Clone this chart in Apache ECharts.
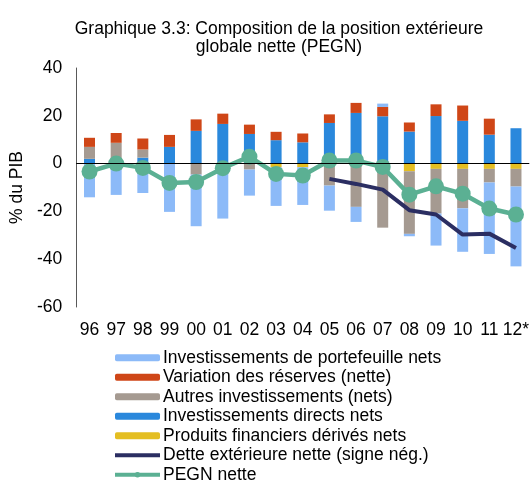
<!DOCTYPE html>
<html>
<head>
<meta charset="utf-8">
<script src="https://cdn.jsdelivr.net/npm/echarts@6/dist/echarts.min.js"></script>
<style>
  html, body { margin: 0; padding: 0; background: #fff; }
  #chart { width: 532px; height: 484px; }
</style>
</head>
<body>
<div id="chart"></div>
<script>
// years (2012 = estimate)
const years = ["96", "97", "98", "99", "00", "01", "02", "03", "04", "05", "06", "07", "08", "09", "10", "11", "12*"];

// % du PIB
const portefeuille = [-14.1, -13.1, -12.3, -20.2, -21.6, -23.0, -10.9, -16.2, -15.8, -10.5, -6.3, 1.4, -1.0, -13.4, -18.2, -29.9, -33.4];
const reserves = [3.8, 4.1, 4.6, 5.0, 4.8, 4.3, 3.9, 3.5, 3.7, 3.6, 4.2, 3.9, 3.8, 4.9, 6.4, 6.7, 0];
const autres = [5.0, 8.7, 3.4, 0, -4.6, 0, -2.5, 0, 0, -9.2, -18.1, -26.8, -26.2, -18.7, -16.5, -5.7, -7.4];
const directs = [2.0, 0, 2.5, 7.0, 13.7, 16.6, 12.4, 9.8, 8.9, 17.0, 21.2, 19.8, 13.4, 19.9, 17.9, 12.1, 14.8];
const derives = [0, 0, 0, 0, 0, 0, 0, -1.5, -1.5, 0, 0, 0, -3.2, -2.2, -2.2, -2.2, -2.2];
const dette = [null, null, null, null, null, null, null, null, null, -6.4, -8.5, -10.9, -19.5, -21.3, -29.7, -29.3, -35.3];
const pegn = [-3.3, 0, -1.8, -8.1, -7.7, -1.9, 2.9, -4.3, -5.0, 1.3, 1.3, -1.4, -13.0, -9.5, -12.6, -18.8, -21.3];

const yTicks = { min: -60, max: 40, step: 20 };

const names = {
  portefeuille: "Investissements de portefeuille nets",
  reserves: "Variation des réserves (nette)",
  autres: "Autres investissements (nets)",
  directs: "Investissements directs nets",
  derives: "Produits financiers dérivés nets",
  dette: "Dette extérieure nette (signe nég.)",
  pegn: "PEGN nette",
};

const font = "'Liberation Sans', Arial, sans-serif";

function bar(name, data, color) {
  return {
    name,
    type: "bar",
    stack: "total",
    data,
    barWidth: 11,
    itemStyle: { color },
  };
}

const chart = echarts.init(document.getElementById("chart"), null, { renderer: "canvas" });

chart.setOption({
  animation: false,
  textStyle: { fontFamily: font, color: "#000" },
  title: {
    text: "Graphique 3.3: Composition de la position extérieure\nglobale nette (PEGN)",
    left: 274,
    top: 15,
    textAlign: "center",
    textStyle: { fontFamily: font, fontSize: 17.5, fontWeight: "normal", color: "#000", lineHeight: 18 },
  },
  legend: {
    orient: "vertical",
    left: 113,
    top: 348,
    height: 140,
    padding: 0,
    itemWidth: 45,
    itemHeight: 7,
    itemGap: 0,
    lineStyle: { width: 4 },
    textStyle: { fontFamily: font, fontSize: 17.5, color: "#000", lineHeight: 19.5, padding: [0, 0, 0, -2] },
    data: [
      names.portefeuille,
      names.reserves,
      names.autres,
      names.directs,
      names.derives,
      { name: names.dette, itemStyle: { opacity: 0 } },
      names.pegn,
    ],
  },
  grid: { left: 73, right: 2, top: 68, bottom: 177 },
  xAxis: {
    type: "category",
    data: years,
    axisLine: { show: false, onZero: false },
    axisTick: { show: false },
    axisLabel: { interval: 0, fontFamily: font, fontSize: 17.5, color: "#000", margin: 14 },
  },
  yAxis: {
    type: "value",
    min: yTicks.min,
    max: yTicks.max,
    interval: yTicks.step,
    name: "% du PIB",
    nameLocation: "middle",
    nameGap: 47,
    nameTextStyle: { fontFamily: font, fontSize: 17.5, color: "#000" },
    axisLine: { show: true, lineStyle: { color: "#595959", width: 1 } },
    axisTick: { show: false },
    splitLine: { show: false },
    axisLabel: { fontFamily: font, fontSize: 17.5, color: "#000", margin: 14 },
  },
  series: [
    bar(names.directs, directs, "#2a88dc"),
    bar(names.derives, derives, "#e4be22"),
    bar(names.autres, autres, "#a59a91"),
    bar(names.reserves, reserves, "#cf4617"),
    bar(names.portefeuille, portefeuille, "#8cbaf8"),
    {
      name: names.dette,
      type: "line",
      data: dette,
      symbol: "none",
      lineStyle: { color: "#2b2e62", width: 4 },
      itemStyle: { color: "#2b2e62" },
      markLine: {
        silent: true,
        symbol: "none",
        label: { show: false },
        lineStyle: { color: "#000", width: 1, type: "solid" },
        data: [{ yAxis: 0 }],
      },
    },
    {
      name: names.pegn,
      type: "line",
      data: pegn,
      symbol: "circle",
      symbolSize: 16,
      lineStyle: { color: "#5bb093", width: 4.5 },
      itemStyle: { color: "#5bb093" },
    },
  ],
});
</script>
</body>
</html>
